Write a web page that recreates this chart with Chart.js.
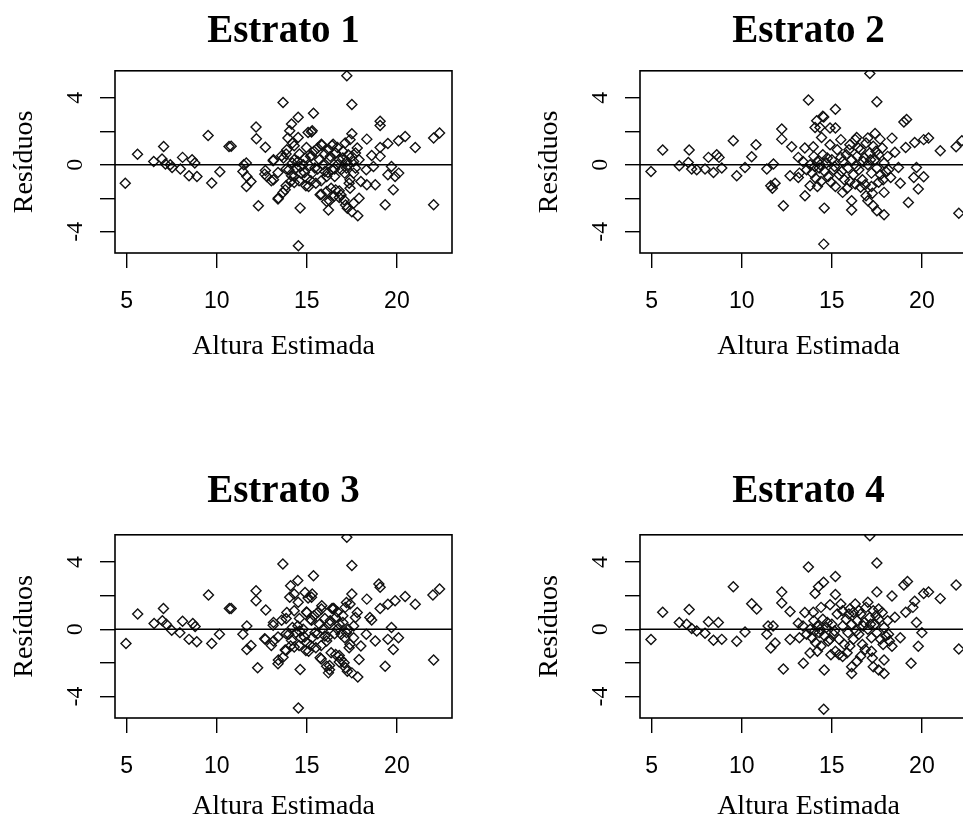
<!DOCTYPE html>
<html>
<head>
<meta charset="utf-8">
<script src="https://cdn.jsdelivr.net/npm/chart.js@4.4.0/dist/chart.umd.min.js"></script>
<style>
html, body { margin: 0; padding: 0; background: #fff; overflow: hidden; }
#wrap { position: relative; width: 963px; height: 816px; overflow: hidden; background: #fff; }
.panel { position: absolute; width: 481px; height: 408px; }
</style>
</head>
<body>
<div id="wrap">
  <div class="panel" style="left:0px;top:0px"><canvas id="c1" width="481" height="408"></canvas></div>
  <div class="panel" style="left:525px;top:0px"><canvas id="c2" width="481" height="408"></canvas></div>
  <div class="panel" style="left:0px;top:465px"><canvas id="c3" width="481" height="408"></canvas></div>
  <div class="panel" style="left:525px;top:465px"><canvas id="c4" width="481" height="408"></canvas></div>
</div>
<script>
// axis ticks / labels
const titles = ['Estrato 1', 'Estrato 2', 'Estrato 3', 'Estrato 4'];
const xTicks = [5, 10, 15, 20];
const yTicks = [-4, -2, 0, 2, 4];
const yTickLabels = ['-4', '', '0', '', '4'];
const xLabel = 'Altura Estimada';
const yLabel = 'Resíduos';

// Estrato 1 (altura estimada, residuo)
const x1 = [4.92,5.6,6.5,6.96,7.05,7.15,7.42,7.52,7.98,8.1,8.63,8.78,8.46,8.9,9.52,9.72,10.17,10.68,10.8,11.45,11.64,11.5,11.67,11.9,11.65,12.18,12.2,12.31,12.7,12.7,12.78,13.15,13.15,13.42,13.68,13.8,13.89,13.7,14.05,14.1,14.15,14.3,14.3,14.3,14.52,14.52,14.63,14.53,14.66,14.87,14.98,15.0,15.1,15.07,15.26,15.3,15.37,15.2,15.15,15.5,15.6,15.74,15.81,15.83,15.7,16.0,16.1,16.1,16.2,16.26,16.26,16.35,16.3,16.4,16.46,16.4,16.55,16.6,16.7,16.8,16.9,17.07,17.1,17.13,17.15,17.2,17.22,17.25,17.4,17.4,17.4,17.5,17.5,17.5,17.5,17.6,17.6,17.8,17.83,17.9,17.9,18.0,18.33,18.3,18.33,18.6,18.7,18.8,19.07,19.07,19.07,19.07,19.35,19.5,19.5,19.7,19.8,19.9,20.09,20.1,20.46,21.02,22.04,22.37,22.04,13.4,13.6,13.85,13.85,13.85,14.15,14.3,14.57,14.59,14.95,15.22,15.26,15.8,16.17,16.54,13.13,13.03,13.4,13.68,12.66,15.8,16.8,16.8,17.0,17.3,17.6,17.2,14.8,14.4,15.9,16.7,14.2,14.5,14.9,15.4,15.6,16.2,16.6,17.0,17.3,17.7,14.0,14.6,15.3,16.0,16.9,17.7,14.2,13.95,16.1,16.5,17.35,15.45];
const y1 = [-1.1,0.62,0.2,0.34,1.09,0.04,0.0,-0.16,-0.26,0.44,0.3,0.1,-0.66,-0.7,1.75,-1.09,-0.42,1.09,1.1,-0.4,0.1,0.0,-0.7,-1.0,-1.3,2.25,1.55,-2.45,1.05,-0.35,-0.7,0.3,-0.9,-1.99,3.72,-1.5,0.9,0.4,2.03,-1.0,2.43,0.3,-0.7,1.13,2.83,1.63,-2.59,-4.84,-0.5,-0.46,1.03,-0.8,-1.3,1.93,1.95,2.03,3.08,0.5,-0.06,-1.1,-0.26,-1.79,1.23,1.17,0.3,0.64,-0.7,-2.2,-2.7,0.34,-2.15,-1.4,0.5,1.15,1.23,-0.3,-0.7,-1.5,1.03,0.3,-1.8,-2.1,-0.5,1.3,-2.4,0.2,5.31,-2.6,1.5,-0.9,-1.4,3.6,1.85,0.5,-2.8,-0.5,-2.3,1.0,-3.04,0.3,-2.0,-1.0,1.53,-0.3,-1.2,0.55,-0.1,-1.2,2.6,2.34,1.03,0.5,-2.39,1.27,-0.6,-0.1,-1.5,-0.7,1.43,-0.5,1.69,1.03,1.6,1.9,-2.39,-0.46,0.54,0.64,-0.26,-1.26,-0.66,-1.06,-0.96,0.64,-1.26,-0.96,0.54,-0.96,-0.46,-0.26,0.24,-0.96,-2.05,-1.66,-0.56,-1.76,-1.56,-1.95,0.8,0.0,0.2,-0.2,0.0,-0.2,0.0,0.0,0.1,0.2,0.4,0.8,1.0,0.9,0.7,0.4,0.6,0.7,-0.3,-0.1,-0.5,-0.4,-0.3,-0.2,1.3,1.6,-1.6,-1.9,-1.1,-0.2];

// Estrato 2
const x2 = [4.96,5.61,6.53,7.03,7.08,7.22,7.5,7.96,8.15,8.61,8.74,8.43,8.89,9.53,9.72,10.18,10.55,10.79,11.39,11.76,11.61,11.85,11.7,12.22,12.22,12.31,12.77,12.68,13.14,13.14,13.51,13.7,13.79,13.97,14.07,14.16,14.5,14.55,14.34,14.43,14.58,14.55,14.9,15.2,15.2,14.9,14.95,15.5,15.6,16.1,16.1,16.38,16.47,16.3,16.6,16.9,17.11,17.5,17.0,17.3,17.4,17.68,17.6,17.9,17.9,17.5,18.34,18.5,18.27,18.8,18.7,19.0,19.15,19.1,19.25,19.6,19.7,19.55,19.8,20.1,20.1,20.37,21.02,21.9,22.22,22.05,13.4,13.6,13.8,13.9,14.0,14.1,14.2,14.3,14.4,14.5,14.6,14.7,14.8,15.0,15.1,15.3,15.4,15.6,15.7,15.8,15.9,16.0,16.1,16.2,16.4,16.5,16.6,16.7,16.8,16.9,17.0,17.1,17.2,17.3,17.4,17.5,17.6,17.7,17.8,17.9,18.0,18.1,13.2,13.5,14.2,15.2,15.5,16.0,16.3,17.0,17.2,14.35,14.75,15.15,15.55,15.95,16.35,16.75,17.15,17.45,17.85,14.05,15.85,16.85,17.25,18.15];
const y2 = [-0.4,0.88,-0.06,0.14,0.88,-0.26,-0.3,-0.26,0.44,0.6,0.44,-0.46,-0.2,1.43,-0.66,-0.16,0.48,1.19,-0.26,0.04,-1.25,-1.11,-1.4,2.13,1.53,-2.45,1.07,-0.66,0.44,-0.76,-1.85,3.86,-1.25,1.07,2.23,2.63,2.9,2.85,2.23,1.63,-2.59,-4.74,2.2,2.2,3.32,1.2,-1.05,0.44,-1.65,-2.15,-2.7,1.63,1.0,-1.15,-1.35,-1.85,5.45,3.76,-2.15,-2.45,1.87,1.53,-1.05,-1.65,-2.99,-2.75,1.59,0.74,-0.76,-1.11,-0.16,2.55,2.7,1.03,-2.25,1.33,-0.16,-0.76,-1.45,-0.72,1.5,1.6,0.84,1.07,1.43,-2.9,0.2,-0.3,0.0,-0.5,0.5,-0.8,0.2,-0.2,-1.0,0.6,-0.4,0.1,-0.7,0.3,-0.3,0.9,-0.6,0.2,-0.9,0.6,-0.2,1.2,0.3,-0.6,0.5,-0.3,0.9,-0.9,0.4,1.3,0.0,0.7,-0.5,1.1,0.3,-0.2,0.6,-0.6,1.0,0.1,-0.4,0.5,-0.5,1.0,-1.3,-1.3,1.5,-1.0,1.5,1.6,-1.3,0.0,0.4,-0.1,-0.4,0.9,-0.1,0.2,0.3,0.8,-0.9,-0.1,-1.4,-1.2,-1.7,-0.3];

// Estrato 3
const x3 = [4.96,5.61,6.52,7.04,6.98,7.2,7.5,7.95,8.1,8.46,8.67,8.8,8.89,9.54,9.72,10.15,10.7,10.8,11.45,11.67,11.67,11.9,12.18,12.18,12.27,12.72,12.7,13.15,13.15,13.42,13.67,13.8,13.89,14.1,14.3,14.5,14.63,14.53,14.9,15.3,15.37,15.0,15.2,15.74,15.83,16.1,16.2,16.4,16.5,17.22,17.5,17.5,17.2,17.07,17.15,17.25,17.5,17.83,17.9,18.33,18.5,18.8,19.0,19.07,19.07,19.35,19.5,19.7,19.8,19.9,20.09,20.46,21.02,22.0,22.37,22.04,13.4,13.6,13.85,13.85,13.85,14.15,14.3,14.57,14.59,14.95,15.22,15.26,15.8,16.17,16.54,13.13,13.03,13.4,13.68,12.66,15.8,16.8,16.8,17.0,17.3,17.6,17.2,14.8,14.4,15.9,16.7,14.05,14.3,14.52,15.07,15.26,15.81,16.0,16.26,16.3,16.46,16.7,16.8,17.13,17.4,17.8,18.0,18.3,18.6,19.5,16.1,16.35,16.6,16.9,17.1,17.4,17.6,14.66,14.87,15.0,15.1,15.5,15.6,15.7,16.26,16.26,14.1,14.98,14.2,14.5,15.4,15.6,16.6,17.0,17.7,14.0,14.6,15.3,16.0,16.9,17.35,15.45];
const y3 = [-0.84,0.9,0.34,1.23,0.5,0.3,-0.06,-0.2,0.48,-0.6,0.34,0.16,-0.74,2.03,-0.84,-0.3,1.23,1.23,-0.3,0.2,-1.2,-0.96,2.29,1.69,-2.29,1.15,-0.6,0.4,-0.7,-1.83,3.88,-1.23,1.0,2.59,2.09,2.89,-2.39,-4.68,2.19,2.09,3.18,1.0,0.6,-1.69,1.39,-2.19,-2.59,1.23,1.23,5.47,3.78,2.09,1.59,-1.99,-2.29,-2.49,-2.59,-2.83,-1.79,1.79,0.7,-0.7,2.69,2.49,1.23,-2.19,1.49,0.1,-1.2,1.69,-0.5,1.95,1.49,2.03,2.39,-1.83,-0.46,0.54,0.64,-0.26,-1.26,-0.66,-1.06,-0.96,0.64,-1.26,-0.96,0.54,-0.96,-0.46,-0.26,0.24,-0.96,-2.05,-1.66,-0.56,-1.76,-1.56,-1.95,0.8,0.0,0.2,-0.2,0.0,-0.2,0.0,0.0,1.9,1.1,1.6,1.85,1.9,1.2,0.64,0.34,0.5,1.23,1.03,0.3,1.3,1.5,1.0,-1.0,-0.3,0.55,-0.6,-0.7,-1.4,-1.5,-1.8,-0.5,-0.9,-0.5,-0.5,-0.46,-0.8,-1.3,-1.1,-0.26,0.3,-2.15,-2.4,-1.0,1.03,0.1,0.2,0.8,1.0,0.7,0.4,0.7,-0.3,-0.1,-0.5,-0.4,-0.3,-1.1,-0.2];

// Estrato 4
const x4 = [4.96,5.61,6.53,6.94,7.08,7.22,7.5,7.96,8.15,8.43,8.7,8.89,9.53,9.72,10.18,10.55,10.83,11.46,11.74,11.39,11.61,11.85,12.22,12.22,12.31,12.68,12.68,13.14,13.42,13.7,13.79,13.97,14.07,14.26,14.54,14.58,14.55,14.9,15.2,15.2,14.95,15.6,16.1,16.1,16.2,16.5,17.11,17.5,17.5,17.3,17.6,17.9,17.9,18.34,18.5,18.34,18.8,19.0,19.2,19.4,19.1,19.6,19.7,19.8,20.0,20.1,20.37,21.02,21.9,22.05,13.4,13.6,13.8,13.9,14.0,14.1,14.2,14.3,14.4,14.5,14.6,14.7,14.8,15.0,15.1,15.3,15.4,15.6,15.7,15.8,15.9,16.0,16.1,16.2,16.4,16.5,16.6,16.7,16.8,16.9,17.0,17.1,17.2,17.3,17.4,17.5,17.6,17.7,17.8,17.9,18.0,18.1,13.2,13.5,14.2,15.2,15.5,16.0,16.3,17.0,17.2,14.4,14.9,15.4,16.6,17.6,18.2,19.5,15.6,16.4,14.35,14.75,15.15,15.95,16.35,16.75,17.15,17.45,17.85,14.05,15.85,16.85,17.25,18.15];
const y4 = [-0.61,1.01,0.4,0.3,1.17,0.04,-0.1,-0.24,0.44,-0.65,0.4,-0.6,2.53,-0.71,-0.16,1.52,1.21,0.2,0.2,-0.3,-1.11,-0.81,2.22,1.56,-2.36,1.05,-0.61,0.36,-2.02,3.7,-1.41,1.01,2.12,2.53,2.79,-2.42,-4.75,1.45,2.06,3.13,-1.52,-1.62,-2.22,-2.63,1.01,1.11,5.56,3.94,2.22,-2.22,-2.42,-2.63,-1.82,1.98,0.71,-1.01,-0.5,2.63,2.83,-2.02,1.01,1.66,0.4,-1.01,-0.2,2.12,2.22,1.82,2.63,-1.17,0.2,-0.3,0.0,-0.5,0.5,-0.8,0.2,-0.2,-1.0,0.6,-0.4,0.1,-0.7,0.3,-0.3,0.9,-0.6,0.2,-0.9,0.6,-0.2,1.2,0.3,-0.6,0.5,-0.3,0.9,-0.9,0.4,1.3,0.0,0.7,-0.5,1.1,0.3,-0.2,0.6,-0.6,1.0,0.1,-0.4,0.5,-0.5,1.0,-1.3,-1.3,1.5,-1.0,1.5,1.6,-1.3,1.3,-0.6,-1.5,-1.6,1.2,-0.7,1.3,1.1,-1.9,0.0,0.4,-0.1,0.9,-0.1,0.2,0.3,0.8,-0.9,-0.1,-1.4,-1.2,-1.7,-0.3];

const xMin = 4.35, xMax = 23.06;
const yMin = -5.27, yMax = 5.61;

// R-like frame, abline(h = 0) and rotated y tick labels
const rFrame = {
    id: 'rFrame',
    afterDatasetsDraw(chart) {
        const ctx = chart.ctx;
        const a = chart.chartArea;
        const ys = chart.scales.y;
        ctx.save();
        ctx.strokeStyle = '#000';
        ctx.lineWidth = 1.6;
        ctx.strokeRect(a.left, a.top, a.right - a.left, a.bottom - a.top);
        const y0 = ys.getPixelForValue(0);
        ctx.beginPath();
        ctx.moveTo(a.left, y0);
        ctx.lineTo(a.right, y0);
        ctx.stroke();
        ctx.fillStyle = '#000';
        ctx.font = '24px "Liberation Serif", serif';
        ctx.textAlign = 'center';
        ctx.textBaseline = 'middle';
        yTicks.forEach((v, i) => {
            if (!yTickLabels[i]) return;
            ctx.save();
            ctx.translate(76, ys.getPixelForValue(v));
            ctx.rotate(-Math.PI / 2);
            ctx.fillText(yTickLabels[i], 0, 0);
            ctx.restore();
        });
        ctx.restore();
    }
};

// row: 0 = top, 1 = bottom (the two rows sit slightly differently)
function makeChart(id, title, xs, ys, row) {
    const points = xs.map((x, i) => ({ x: x, y: ys[i] }));
    const titlePad = row === 0 ? { top: 9, bottom: 15 } : { top: 4, bottom: 19 };
    const xTitleBottom = row === 0 ? 45 : 50;
    return new Chart(id, {
        type: 'scatter',
        data: {
            datasets: [{
                data: points,
                pointStyle: 'rectRot',
                pointRadius: 5,
                pointHoverRadius: 5,
                borderColor: '#111',
                borderWidth: 1.4,
                backgroundColor: 'rgba(0,0,0,0)'
            }]
        },
        options: {
            responsive: false,
            animation: false,
            events: [],
            layout: { padding: { left: 0, right: 29, top: 0, bottom: 0 } },
            plugins: {
                legend: { display: false },
                tooltip: { enabled: false },
                title: {
                    display: true,
                    text: title,
                    fullSize: false,
                    color: '#000',
                    font: { family: 'Liberation Serif', size: 39, weight: 'bold' },
                    padding: titlePad
                }
            },
            scales: {
                x: {
                    type: 'linear',
                    min: xMin,
                    max: xMax,
                    afterBuildTicks: s => { s.ticks = xTicks.map(v => ({ value: v })); },
                    afterFit: s => { s.height = 155; },
                    ticks: {
                        color: '#000',
                        font: { family: 'Liberation Sans', size: 23 },
                        padding: 20,
                        maxRotation: 0,
                        autoSkip: false
                    },
                    grid: { display: true, drawOnChartArea: false, drawTicks: true, tickLength: 15, color: '#000', lineWidth: 1.4 },
                    border: { display: false },
                    title: {
                        display: true,
                        text: xLabel,
                        color: '#000',
                        font: { family: 'Liberation Serif', size: 28 },
                        padding: { top: 0, bottom: xTitleBottom }
                    }
                },
                y: {
                    type: 'linear',
                    min: yMin,
                    max: yMax,
                    afterBuildTicks: s => { s.ticks = yTicks.map(v => ({ value: v })); },
                    afterFit: s => { s.width = 115; },
                    ticks: { display: false },
                    grid: { display: true, drawOnChartArea: false, drawTicks: true, tickLength: 15, color: '#000', lineWidth: 1.4 },
                    border: { display: false },
                    title: {
                        display: true,
                        text: yLabel,
                        color: '#000',
                        font: { family: 'Liberation Serif', size: 28 },
                        padding: { top: 8, bottom: 0 }
                    }
                }
            }
        },
        plugins: [rFrame]
    });
}

makeChart('c1', titles[0], x1, y1, 0);
makeChart('c2', titles[1], x2, y2, 0);
makeChart('c3', titles[2], x3, y3, 1);
makeChart('c4', titles[3], x4, y4, 1);
</script>
</body>
</html>
